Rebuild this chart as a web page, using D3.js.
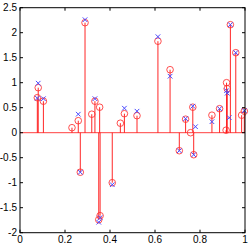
<!DOCTYPE html>
<html><head><meta charset="utf-8">
<script src="https://cdn.jsdelivr.net/npm/d3@7"></script>
<style>body{margin:0;background:#fff}svg{display:block}</style>
</head><body><svg id="c" width="252" height="244"></svg>
<script>
const stemX = [0.077,0.081,0.104,0.231,0.259,0.268,0.289,0.319,0.333,0.350,0.354,0.356,0.410,0.446,0.464,0.520,0.613,0.667,0.708,0.736,0.758,0.768,0.772,0.853,0.887,0.916,0.918,0.921,0.935,0.959,0.985,0.997];
const stemY = [0.70,0.90,0.63,0.10,0.24,-0.79,2.20,0.37,0.63,-1.74,0.51,-1.66,-1.00,0.19,0.38,0.34,1.83,1.26,-0.36,0.27,0.00,0.51,-0.44,0.35,0.48,0.05,1.00,0.88,2.16,1.60,0.35,0.43];
const markX = [0.077,0.081,0.104,0.259,0.268,0.289,0.333,0.350,0.356,0.410,0.464,0.520,0.613,0.667,0.708,0.736,0.768,0.772,0.780,0.853,0.887,0.918,0.921,0.930,0.935,0.959,0.997];
const markY = [0.69,0.99,0.68,0.37,-0.79,2.26,0.68,-1.79,-1.70,-1.04,0.49,0.43,1.92,1.13,-0.36,0.28,0.53,-0.44,0.12,0.22,0.48,0.84,0.79,0.30,2.16,1.60,0.44];
const xTicks = [0,0.2,0.4,0.6,0.8,1];
const xTickLabels = ["0","0.2","0.4","0.6","0.8","1"];
const yTicks = [-2,-1.5,-1,-0.5,0,0.5,1,1.5,2,2.5];
const yTickLabels = ["-2","-1.5","-1","-0.5","0","0.5","1","1.5","2","2.5"];

const L=20,R=245,T=7.7,B=232.7;
const svg=d3.select("#c");
const x=d3.scaleLinear().domain([0,1]).range([L,R]);
const y=d3.scaleLinear().domain([-2,2.5]).range([B,T]);
const font="Liberation Sans, Arial, sans-serif";

// baseline
svg.append("line").attr("x1",L).attr("x2",R).attr("y1",y(0)).attr("y2",y(0))
  .attr("stroke","#ff0000").attr("stroke-width",1).attr("stroke-opacity",0.75);
// stems
const pts=stemX.map((v,i)=>({x:v,y:stemY[i]}));
svg.append("g").selectAll("line").data(pts).join("line")
  .attr("x1",d=>x(d.x)).attr("x2",d=>x(d.x)).attr("y1",y(0)).attr("y2",d=>y(d.y))
  .attr("stroke","#ff0000").attr("stroke-width",1).attr("stroke-opacity",0.85);
svg.append("g").selectAll("circle").data(pts).join("circle")
  .attr("cx",d=>x(d.x)).attr("cy",d=>y(d.y)).attr("r",3.3)
  .attr("fill","none").attr("stroke","#ff3030").attr("stroke-width",1).attr("stroke-opacity",0.85);
// blue x marks
const mk=markX.map((v,i)=>({x:v,y:markY[i]}));
const s=2.3;
svg.append("g").selectAll("path").data(mk).join("path")
  .attr("d",d=>{const cx=x(d.x),cy=y(d.y);return `M${cx-s},${cy-s}L${cx+s},${cy+s}M${cx-s},${cy+s}L${cx+s},${cy-s}`;})
  .attr("stroke","#4a4aff").attr("stroke-width",1).attr("fill","none");

// box
svg.append("rect").attr("x",L).attr("y",T).attr("width",R-L).attr("height",B-T)
  .attr("fill","none").attr("stroke","#000").attr("stroke-width",1);
// ticks
const tl=3;
const g=svg.append("g").attr("stroke","#000").attr("stroke-width",1);
xTicks.forEach(t=>{
  g.append("line").attr("x1",x(t)).attr("x2",x(t)).attr("y1",B).attr("y2",B-tl);
  g.append("line").attr("x1",x(t)).attr("x2",x(t)).attr("y1",T).attr("y2",T+tl);
});
yTicks.forEach(t=>{
  g.append("line").attr("x1",L).attr("x2",L+tl).attr("y1",y(t)).attr("y2",y(t));
  g.append("line").attr("x1",R).attr("x2",R-tl).attr("y1",y(t)).attr("y2",y(t));
});
svg.append("g").selectAll("text").data(xTicks).join("text")
  .attr("x",d=>x(d)).attr("y",243).attr("text-anchor","middle")
  .attr("font-family",font).attr("font-size",10).attr("fill","#000")
  .text((d,i)=>xTickLabels[i]);
svg.append("g").selectAll("text").data(yTicks).join("text")
  .attr("x",17).attr("y",d=>y(d)+3.5).attr("text-anchor","end")
  .attr("font-family",font).attr("font-size",10).attr("fill","#000")
  .text((d,i)=>yTickLabels[i]);
</script></body></html>
